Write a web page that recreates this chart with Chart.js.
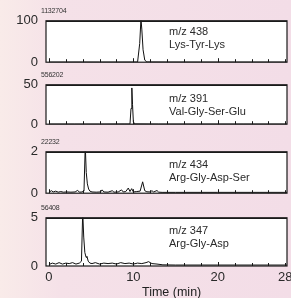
<!DOCTYPE html>
<html>
<head>
<meta charset="utf-8">
<script src="https://cdn.jsdelivr.net/npm/chart.js@4.4.1/dist/chart.umd.min.js"></script>
<style>
  html, body { margin: 0; padding: 0; }
  body {
    width: 291px; height: 298px; overflow: hidden; position: relative;
    background: linear-gradient(to right, #f9ebe9 0px, #f5e1e8 60px, #f3dde7 291px);
    font-family: "Liberation Sans", Arial, sans-serif; color: #2a2a2a;
  }
  canvas { position: absolute; left: 0; }
  .note { position: absolute; font-size: 11px; line-height: 13px; color: #2a2a2a; white-space: nowrap; }
  .count { position: absolute; font-size: 7px; color: #333; letter-spacing: -0.2px; }
  #xtitle { position: absolute; left: 142px; top: 285px; font-size: 12.5px; color: #222; }
</style>
</head>
<body>
<canvas id="c1" width="300" height="73" style="top:5px"></canvas>
<canvas id="c2" width="300" height="71" style="top:69px"></canvas>
<canvas id="c3" width="300" height="73" style="top:136px"></canvas>
<canvas id="c4" width="300" height="82" style="top:202px"></canvas>

<div class="count" style="left:41px;top:7px">1132704</div>
<div class="count" style="left:41px;top:71px">556202</div>
<div class="count" style="left:41px;top:138px">22232</div>
<div class="count" style="left:41px;top:204px">56408</div>

<div class="note" style="left:169px;top:25px">m/z 438<br>Lys-Tyr-Lys</div>
<div class="note" style="left:169px;top:92px">m/z 391<br>Val-Gly-Ser-Glu</div>
<div class="note" style="left:169px;top:158px">m/z 434<br>Arg-Gly-Asp-Ser</div>
<div class="note" style="left:169px;top:224px">m/z 347<br>Arg-Gly-Asp</div>
<div id="xtitle">Time (min)</div>

<script>
// retention time axis (min)
const xTicks = [0, 10, 20, 28];

// m/z 438 Lys-Tyr-Lys (full scale 100)
const times1 = [0, 2, 4, 6, 8, 10, 10.5, 10.75, 10.9, 11.0, 11.15, 11.35, 11.6, 14, 18, 22, 26, 28.2];
const int1 = [0.3, 0.3, 0.4, 0.3, 0.3, 0.4, 0.5, 45, 104, 80, 30, 5, 0.6, 0.4, 0.3, 0.3, 0.3, 0.3];

// m/z 391 Val-Gly-Ser-Glu (full scale 50)
const times2 = [0, 3, 6, 9, 9.6, 9.72, 9.82, 9.9, 10.0, 10.15, 13, 18, 23, 28.2];
const int2 = [0.2, 0.2, 0.2, 0.3, 0.3, 20, 46, 25, 3, 0.4, 0.2, 0.2, 0.2, 0.2];

// m/z 434 Arg-Gly-Asp-Ser (full scale 2)
const times3 = [0, 0.3, 0.5, 0.8, 1.1, 1.4, 1.7, 2.1, 2.6, 3.1, 3.4, 3.6, 3.9, 4.15, 4.3, 4.42, 4.55, 4.7, 4.85, 5.1,
  5.6, 6.1, 6.3, 6.5, 7.0, 7.5, 7.7, 8.2, 8.6, 8.8, 9.1, 9.4, 9.6, 9.8, 10.0, 10.4, 10.8, 11.1, 11.35, 11.6,
  12.0, 12.2, 12.4, 12.8, 13.0, 13.4, 15, 20, 25, 28.2];
const int3 = [0.05, 0.12, 0.06, 0.1, 0.05, 0.08, 0.05, 0.06, 0.05, 0.06, 0.14, 0.05, 0.06, 0.1, 2.3, 1.0, 0.45, 0.2, 0.1, 0.06,
  0.05, 0.06, 0.16, 0.06, 0.05, 0.12, 0.05, 0.06, 0.16, 0.06, 0.08, 0.25, 0.08, 0.22, 0.06, 0.08, 0.1, 0.55, 0.12, 0.07,
  0.06, 0.12, 0.06, 0.13, 0.05, 0.04, 0.04, 0.04, 0.04, 0.04];

// m/z 347 Arg-Gly-Asp (full scale 5)
const times4 = [0, 0.4, 0.8, 1.2, 1.6, 2.0, 2.4, 2.8, 3.2, 3.6, 3.85, 4.0, 4.12, 4.25, 4.4, 4.5, 4.65, 4.85, 5.1,
  5.5, 6.0, 6.5, 7.0, 7.5, 8.0, 8.5, 9.0, 9.5, 10.0, 10.5, 11.0, 11.5, 11.8, 12.2, 12.8, 13.5, 15, 20, 25, 28.2];
const int4 = [0.15, 0.3, 0.2, 0.35, 0.2, 0.3, 0.25, 0.35, 0.2, 0.3, 0.5, 5.6, 3.0, 1.4, 0.9, 1.0, 0.5, 0.3, 0.25,
  0.35, 0.2, 0.3, 0.25, 0.3, 0.2, 0.35, 0.25, 0.3, 0.2, 0.3, 0.25, 0.35, 0.45, 0.25, 0.2, 0.12, 0.1, 0.1, 0.1, 0.1];

const panelFrame = {
  id: 'panelFrame',
  beforeDatasetsDraw(chart) {
    const a = chart.chartArea, ctx = chart.ctx;
    ctx.save();
    ctx.fillStyle = '#ffffff';
    ctx.fillRect(a.left, a.top, a.right - a.left, a.bottom - a.top);
    ctx.restore();
  },
  afterDatasetsDraw(chart) {
    const a = chart.chartArea, ctx = chart.ctx, xs = chart.scales.x;
    ctx.save();
    ctx.strokeStyle = '#1a1a1a';
    ctx.lineWidth = 1.2;
    ctx.strokeRect(a.left, a.top, a.right - a.left, a.bottom - a.top);
    ctx.beginPath();
    ctx.moveTo(a.left, a.top + 0.5);
    ctx.lineTo(a.right, a.top + 0.5);
    ctx.stroke();
    // small inward ticks every 2 min along the bottom
    ctx.lineWidth = 1;
    ctx.beginPath();
    for (let t = 0; t <= 28; t += 2) {
      const px = Math.round(xs.getPixelForValue(t)) + 0.5;
      ctx.moveTo(px, a.bottom);
      ctx.lineTo(px, a.bottom - (t % 10 === 0 ? 4 : 3));
    }
    ctx.stroke();
    ctx.restore();
  }
};

function makePanel(id, times, values, yMax, showX) {
  const pts = times.map((t, i) => ({ x: t, y: values[i] }));
  return new Chart(document.getElementById(id), {
    type: 'line',
    data: { datasets: [{ data: pts, borderColor: '#111', borderWidth: 1, pointRadius: 0, tension: 0, fill: false }] },
    options: {
      responsive: false,
      animation: false,
      devicePixelRatio: 1,
      layout: { padding: { top: 12, right: 13, bottom: showX ? 0 : 8, left: 0 } },
      plugins: { legend: { display: false }, tooltip: { enabled: false } },
      scales: {
        x: {
          type: 'linear', min: -0.35, max: 28.2, display: showX,
          grid: { display: false, drawTicks: false }, border: { display: false },
          afterBuildTicks: s => { s.ticks = xTicks.map(v => ({ value: v })); },
          afterFit: s => { if (showX) s.height = 18; },
          ticks: { padding: 4, color: '#2a2a2a', font: { family: 'Liberation Sans', size: 13 }, maxRotation: 0 }
        },
        y: {
          min: 0, max: yMax,
          grid: { display: false, drawTicks: false }, border: { display: false },
          afterBuildTicks: s => { s.ticks = [{ value: 0 }, { value: yMax }]; },
          afterFit: s => { s.width = 46; },
          ticks: { padding: 8, color: '#2a2a2a', font: { family: 'Liberation Sans', size: 13 } }
        }
      }
    },
    plugins: [panelFrame]
  });
}

makePanel('c1', times1, int1, 100, false);
makePanel('c2', times2, int2, 50, false);
makePanel('c3', times3, int3, 2, false);
makePanel('c4', times4, int4, 5, true);
</script>
</body>
</html>
